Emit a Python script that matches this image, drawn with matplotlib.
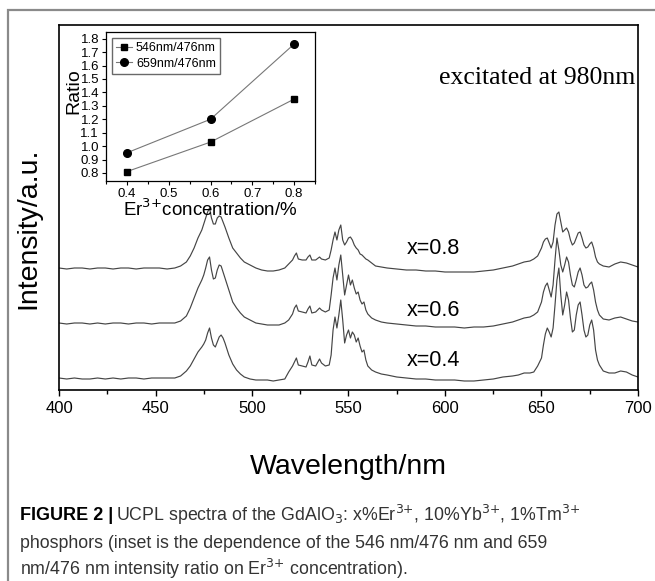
import matplotlib.pyplot as plt
from matplotlib.patches import Rectangle

plt.rcParams['font.family'] = ['Liberation Sans', 'DejaVu Sans']

# wavelength grid (nm) shared by the three spectra
wl = [400, 404, 408, 412, 416, 420, 424, 428, 432, 436, 440, 444, 448, 452, 456, 460,
      463, 466, 468, 470, 472, 474, 475, 476, 477, 478, 479, 480, 481, 482, 483, 484,
      485, 486, 488, 490, 492, 494, 496, 499, 502, 505, 508, 511, 514, 517, 519, 521,
      522, 523, 524, 526, 528, 529, 530, 531, 533, 535, 536, 538, 540, 541, 542, 543,
      544, 545, 546, 547, 548, 549, 550, 551, 552, 553, 554, 555, 556, 557, 558, 559,
      560, 562, 564, 567, 570, 575, 580, 585, 590, 595, 600, 605, 610, 615, 620, 625,
      630, 635, 638, 641, 644, 646, 648, 650, 651, 652, 653, 654, 655, 656, 657, 658,
      659, 660, 661, 662, 663, 664, 665, 666, 667, 668, 669, 670, 671, 672, 673, 674,
      675, 676, 677, 678, 679, 680, 682, 685, 688, 691, 694, 697, 700]

# intensities (a.u., already stacked as shown)
x04 = [12, 11, 12, 11, 11, 12, 11, 12, 11, 12, 12, 11, 12, 12, 12, 12,
       14, 19, 24, 31, 38, 43, 46, 50, 57, 62, 52, 45, 43, 48, 53, 55,
       52, 47, 35, 26, 20, 16, 13, 11, 10, 10, 10, 9, 10, 11, 18, 24,
       28, 32, 25, 24, 23, 28, 34, 25, 24, 31, 27, 24, 25, 35, 60, 73,
       62, 75, 90, 70, 47, 55, 60, 52, 58, 55, 48, 52, 44, 38, 40, 30,
       24, 20, 18, 16, 15, 13, 12, 11, 11, 10, 10, 10, 9, 9, 10, 11,
       13, 14, 15, 17, 17, 18, 24, 32, 45, 56, 62, 58, 53, 62, 85, 110,
       122, 95, 75, 85, 98, 90, 72, 58, 60, 75, 85, 88, 75, 60, 53, 55,
       65, 70, 60, 40, 30, 25, 19, 17, 17, 19, 18, 15, 13]
x06 = [67, 66, 67, 67, 66, 67, 66, 67, 67, 66, 67, 67, 66, 67, 67, 67,
       69, 74, 82, 92, 102, 110, 115, 122, 130, 133, 120, 111, 112, 120, 125, 124,
       118, 112, 100, 88, 82, 77, 73, 70, 67, 66, 65, 65, 65, 67, 70, 76,
       82, 85, 79, 78, 77, 81, 84, 77, 78, 82, 80, 78, 80, 95, 112, 122,
       110, 125, 135, 115, 95, 105, 115, 105, 110, 102, 96, 98, 90, 86, 88, 80,
       76, 72, 70, 68, 67, 66, 65, 64, 64, 63, 63, 63, 62, 63, 63, 64,
       66, 68, 70, 72, 73, 75, 78, 88, 98, 104, 107, 100, 93, 105, 130, 152,
       140, 125, 118, 125, 133, 128, 115, 105, 103, 110, 118, 122, 115, 105, 102, 103,
       106, 108, 100, 88, 80, 75, 71, 70, 72, 73, 71, 69, 68]
x08 = [122, 121, 122, 122, 121, 122, 122, 121, 122, 122, 121, 122, 122, 122, 121, 122,
       124, 128, 134, 142, 152, 160, 166, 172, 178, 182, 172, 166, 166, 172, 174, 173,
       168, 163, 152, 142, 137, 132, 128, 125, 122, 120, 119, 119, 120, 122, 126, 130,
       134, 137, 131, 130, 130, 133, 135, 130, 130, 133, 131, 130, 132, 140, 150, 158,
       150, 160, 165, 150, 145, 148, 152, 153, 150, 145, 142, 140, 136, 135, 133, 131,
       130, 127, 124, 123, 122, 121, 120, 120, 119, 119, 118, 118, 118, 118, 119, 120,
       122, 124, 126, 128, 129, 131, 134, 142, 148, 151, 152, 147, 142, 148, 165, 176,
       178, 168, 158, 160, 162, 158, 150, 145, 147, 152, 157, 158, 152, 145, 142, 143,
       146, 148, 142, 133, 128, 126, 124, 123, 126, 128, 127, 125, 123]
series_labels = ['x=0.4', 'x=0.6', 'x=0.8']

# inset data
conc = [0.4, 0.6, 0.8]
r546 = [0.81, 1.03, 1.35]
r659 = [0.95, 1.20, 1.76]

fig = plt.figure(figsize=(6.55, 5.81), dpi=100)

# grey frame around the figure panel
fig.patches.append(Rectangle((8 / 655, -0.05), 1.0, (581 - 10) / 581 + 0.05,
                             transform=fig.transFigure, fill=False,
                             edgecolor='#8a8a8a', lw=1.6))

ax = fig.add_axes([59 / 655, 1 - 390 / 581, 579 / 655, 365 / 581])
for y in (x04, x06, x08):
    ax.plot(wl, y, color='#454545', lw=0.85)
ax.set_xlim(400, 700)
ax.set_ylim(0, 365)
ax.set_yticks([])
ax.set_xticks(range(400, 701, 50))
ax.set_xticks(range(425, 700, 50), minor=True)
ax.tick_params(axis='x', which='major', direction='out', length=4, width=1, labelsize=12, pad=4)
ax.tick_params(axis='x', which='minor', direction='out', length=3, width=1)
for s in ax.spines.values():
    s.set_linewidth(1.2)
ax.set_xlabel('Wavelength/nm', fontsize=20.5, labelpad=27)
ax.set_ylabel('Intensity/a.u.', fontsize=20.5)
ax.yaxis.set_label_coords(-0.03, 0.444)

ax.text(580, 30, series_labels[0], fontsize=15.5, va='center')
ax.text(580, 80, series_labels[1], fontsize=15.5, va='center')
ax.text(580, 142, series_labels[2], fontsize=15.5, va='center')
ax.text(597, 312, 'excitated at 980nm', fontsize=18.5, va='center',
        family='Liberation Serif')

# inset
ins = fig.add_axes([106 / 655, 1 - 181 / 581, 209 / 655, 149 / 581])
ins.plot(conc, r546, color='#777777', lw=0.8, marker='s', ms=5,
         mfc='black', mec='black', label='546nm/476nm')
ins.plot(conc, r659, color='#777777', lw=0.8, marker='o', ms=5.5,
         mfc='black', mec='black', label='659nm/476nm')
ins.set_xlim(0.35, 0.85)
ins.set_ylim(0.74, 1.85)
ins.set_xticks([0.4, 0.5, 0.6, 0.7, 0.8])
ins.set_xticks([0.35, 0.45, 0.55, 0.65, 0.75, 0.85], minor=True)
ins.set_yticks([0.8, 0.9, 1.0, 1.1, 1.2, 1.3, 1.4, 1.5, 1.6, 1.7, 1.8])
ins.tick_params(which='major', direction='out', length=3, width=0.8, labelsize=9.5, pad=2)
ins.tick_params(which='minor', direction='out', length=2, width=0.8)
for s in ins.spines.values():
    s.set_linewidth(0.9)
ins.set_ylabel('Ratio', fontsize=14)
ins.yaxis.set_label_coords(-0.115, 0.6)
ins.set_xlabel('Er$^{3{+}}$concentration/%', fontsize=13.5, labelpad=-1)
ins.legend(loc='upper left', fontsize=9, frameon=True, fancybox=False,
           edgecolor='#444444', handlelength=1.3, borderpad=0.3,
           labelspacing=0.3, handletextpad=0.3, borderaxespad=0.5)

# caption
fig.text(20 / 655, 1 - 515 / 581, 'FIGURE 2 |', fontsize=13, weight='bold', va='center')
fig.text(116 / 655, 1 - 515 / 581,
         'UCPL spectra of the GdAlO$_3$: x%Er$^{3{+}}$, 10%Yb$^{3{+}}$, 1%Tm$^{3{+}}$',
         fontsize=12.8, va='center', color='#333333')
fig.text(20 / 655, 1 - 543 / 581,
         'phosphors (inset is the dependence of the 546 nm/476 nm and 659',
         fontsize=12.8, va='center', color='#333333')
fig.text(20 / 655, 1 - 569 / 581,
         'nm/476 nm intensity ratio on Er$^{3{+}}$ concentration).',
         fontsize=12.8, va='center', color='#333333')

fig.savefig('out.png', dpi=100)
